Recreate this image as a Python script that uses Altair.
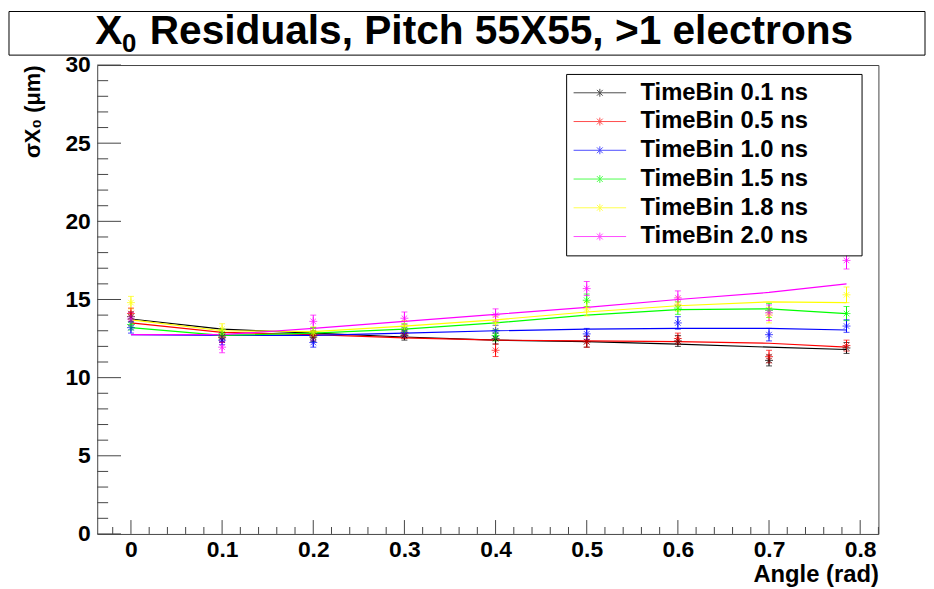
import altair as alt
import pandas as pd

# ---------------- data ----------------
angles = [0.0, 0.1, 0.2, 0.3, 0.4, 0.5, 0.6, 0.7, 0.785]
series = ["TimeBin 0.1 ns", "TimeBin 0.5 ns", "TimeBin 1.0 ns",
          "TimeBin 1.5 ns", "TimeBin 1.8 ns", "TimeBin 2.0 ns"]
colors = ["#000000", "#ff0000", "#0000ff", "#00ff00", "#ffff00", "#ff00ff"]

# measured points
pts_01 = [13.9, 12.6, 12.6, 12.7, 12.5, 12.3, 12.35, 11.1, 11.9]
pts_05 = [14.1, 12.55, 12.7, 12.8, 11.75, 12.3, 12.5, 11.35, 12.05]
pts_10 = [13.2, 12.4, 12.25, 12.9, 13.0, 12.8, 13.5, 12.75, 13.3]
pts_15 = [13.4, 12.8, 12.9, 13.1, 12.7, 14.95, 14.45, 14.3, 14.1]
pts_18 = [14.8, 13.1, 12.9, 13.3, 13.5, 14.4, 14.7, 14.0, 15.3]
pts_20 = [13.75, 11.95, 13.6, 13.8, 14.0, 15.7, 15.1, 14.15, 17.5]

# error bar half widths
err_01 = [0.3, 0.3, 0.3, 0.3, 0.35, 0.35, 0.35, 0.35, 0.35]
err_05 = [0.35, 0.3, 0.3, 0.3, 0.4, 0.35, 0.35, 0.4, 0.35]
err_10 = [0.35, 0.3, 0.3, 0.3, 0.35, 0.35, 0.4, 0.4, 0.4]
err_15 = [0.35, 0.3, 0.3, 0.35, 0.35, 0.4, 0.4, 0.45, 0.45]
err_18 = [0.4, 0.35, 0.35, 0.35, 0.4, 0.45, 0.45, 0.5, 0.5]
err_20 = [0.4, 0.35, 0.4, 0.4, 0.4, 0.45, 0.45, 0.5, 0.55]

# fitted curves (values at the same angles)
fit_01 = [13.75, 13.1, 12.85, 12.6, 12.4, 12.3, 12.15, 11.95, 11.8]
fit_05 = [13.5, 12.9, 12.75, 12.55, 12.4, 12.35, 12.3, 12.2, 11.95]
fit_10 = [12.75, 12.7, 12.7, 12.85, 13.0, 13.1, 13.15, 13.15, 13.05]
fit_15 = [13.2, 12.7, 12.85, 13.1, 13.5, 14.0, 14.35, 14.4, 14.1]
fit_18 = [13.7, 13.0, 12.95, 13.3, 13.7, 14.2, 14.6, 14.85, 14.8]
fit_20 = [12.75, 12.75, 13.15, 13.6, 14.05, 14.5, 15.0, 15.45, 16.0]

x_major = [0, 0.1, 0.2, 0.3, 0.4, 0.5, 0.6, 0.7, 0.8]
x_minor = [-0.02, 0.02, 0.04, 0.06, 0.08, 0.12, 0.14, 0.16, 0.18, 0.22, 0.24, 0.26, 0.28,
           0.32, 0.34, 0.36, 0.38, 0.42, 0.44, 0.46, 0.48, 0.52, 0.54, 0.56, 0.58,
           0.62, 0.64, 0.66, 0.68, 0.72, 0.74, 0.76, 0.78, 0.82]
y_major = [0, 5, 10, 15, 20, 25, 30]
y_minor = [1, 2, 3, 4, 6, 7, 8, 9, 11, 12, 13, 14, 16, 17, 18, 19, 21, 22, 23, 24, 26, 27, 28, 29]

title_main = "X"
title_sub = "0"
title_rest = "Residuals, Pitch 55X55, >1 electrons"

# ---------------- tables ----------------
all_pts = [pts_01, pts_05, pts_10, pts_15, pts_18, pts_20]
all_err = [err_01, err_05, err_10, err_15, err_18, err_20]
all_fit = [fit_01, fit_05, fit_10, fit_15, fit_18, fit_20]

rows, frows = [], []
for s, p, e, f in zip(series, all_pts, all_err, all_fit):
    for a, v, ev, fv in zip(angles, p, e, f):
        rows.append({"angle": a, "sigma": v, "lo": v - ev, "hi": v + ev, "series": s})
        frows.append({"angle": a, "fit": fv, "series": s})
df_pts = pd.DataFrame(rows)
df_fit = pd.DataFrame(frows)
df_title = pd.DataFrame({"main": [title_main], "sub": [title_sub], "rest": [title_rest]})
df_xmaj = pd.DataFrame({"v": x_major})
df_xmin = pd.DataFrame({"v": x_minor})
df_ymaj = pd.DataFrame({"v": y_major})
df_ymin = pd.DataFrame({"v": y_minor})

# ---------------- style ----------------
FONT = "Liberation Sans"
W, H = 788, 473
FRAME = "#444444"
ASTER = "M-1,0L1,0M0,-1L0,1M-0.7,-0.7L0.7,0.7M-0.7,0.7L0.7,-0.7"
LEG = "M-1,0L1,0M0,-0.15L0,0.15M-0.11,-0.11L0.11,0.11M-0.11,0.11L0.11,-0.11"

xscale = alt.Scale(domain=[-0.037, 0.82], nice=False, zero=False)
yscale = alt.Scale(domain=[0, 30], nice=False)

xaxis = alt.Axis(values=x_major, format="~g", ticks=False, domain=False, grid=False,
                 labelFont=FONT, labelFontSize=23, labelFontWeight="bold", labelColor="black",
                 labelPadding=5, title="Angle (rad)", titleFont=FONT, titleFontSize=24,
                 titleFontWeight="bold", titleColor="black", titleAnchor="end", titlePadding=1)
yaxis = alt.Axis(values=y_major, format="d", ticks=False, domain=False, grid=False,
                 labelFont=FONT, labelFontSize=23, labelFontWeight="bold", labelColor="black",
                 labelPadding=7, title="\u03c3X\u2080 (\u03bcm)", titleFont=FONT, titleFontSize=22,
                 titleFontWeight="bold", titleColor="black", titleAnchor="end", titlePadding=21)

pad = "\u00a0" * 7 + "\u200b"
legend = alt.Legend(title=None, orient="none", legendX=473, legendY=9,
                    symbolType=LEG, symbolSize=2809, symbolStrokeWidth=1,
                    labelFont=FONT, labelFontSize=24, labelFontWeight="bold", labelColor="black",
                    labelExpr="datum.label + '" + pad + "'", labelLimit=400,
                    strokeColor="black", fillColor="white", padding=7, rowPadding=5,
                    clipHeight=24, labelOffset=14)
color = alt.Color("series:N", scale=alt.Scale(domain=series, range=colors), legend=legend)

X = lambda f: alt.X(f, type="quantitative", scale=xscale, axis=xaxis)
Y = lambda f: alt.Y(f, type="quantitative", scale=yscale, axis=yaxis)

frame = alt.Chart(df_title).mark_rect(fill="white", stroke="black", strokeWidth=1).encode(
    x=alt.value(-89), x2=alt.value(835), y=alt.value(-54), y2=alt.value(-10))
t_main = alt.Chart(df_title).mark_text(font=FONT, fontSize=41, fontWeight="bold",
                                       align="left", baseline="alphabetic", color="black").encode(
    x=alt.value(-2), y=alt.value(-21), text="main:N")
t_sub = alt.Chart(df_title).mark_text(font=FONT, fontSize=26, fontWeight="bold",
                                      align="left", baseline="alphabetic", color="black").encode(
    x=alt.value(25), y=alt.value(-13), text="sub:N")
t_rest = alt.Chart(df_title).mark_text(font=FONT, fontSize=41, fontWeight="bold",
                                       align="left", baseline="alphabetic", color="black").encode(
    x=alt.value(53), y=alt.value(-21), text="rest:N")

ymaj = alt.Chart(df_ymaj).mark_rule(color=FRAME, strokeWidth=1).encode(
    y=Y("v"), x=alt.value(0), x2=alt.value(24))
ymin = alt.Chart(df_ymin).mark_rule(color=FRAME, strokeWidth=1).encode(
    y=Y("v"), x=alt.value(0), x2=alt.value(11))
xmaj = alt.Chart(df_xmaj).mark_rule(color=FRAME, strokeWidth=1).encode(
    x=X("v"), y=alt.value(H), y2=alt.value(H - 14))
xmin = alt.Chart(df_xmin).mark_rule(color=FRAME, strokeWidth=1).encode(
    x=X("v"), y=alt.value(H), y2=alt.value(H - 7))

lines = alt.Chart(df_fit).mark_line(strokeWidth=1.2).encode(
    x=X("angle"), y=Y("fit"), color=color, order="angle:Q")
bars = alt.Chart(df_pts).mark_rule(strokeWidth=1).encode(
    x=X("angle"), y=Y("lo"), y2="hi", color=color)
cap_lo = alt.Chart(df_pts).mark_tick(orient="horizontal", size=6, thickness=1).encode(
    x=X("angle"), y=Y("lo"), color=color)
cap_hi = alt.Chart(df_pts).mark_tick(orient="horizontal", size=6, thickness=1).encode(
    x=X("angle"), y=Y("hi"), color=color)
points = alt.Chart(df_pts).mark_point(shape=ASTER, size=64, filled=False, strokeWidth=1).encode(
    x=X("angle"), y=Y("sigma"), color=color)

chart = alt.layer(frame, t_main, t_sub, t_rest, ymaj, ymin, xmaj, xmin,
                  lines, bars, cap_lo, cap_hi, points).properties(
    width=W, height=H, padding=0, background="white"
).configure_view(stroke=FRAME, strokeWidth=1)

chart.save("out.html", embed_options={"renderer": "svg", "actions": False})
